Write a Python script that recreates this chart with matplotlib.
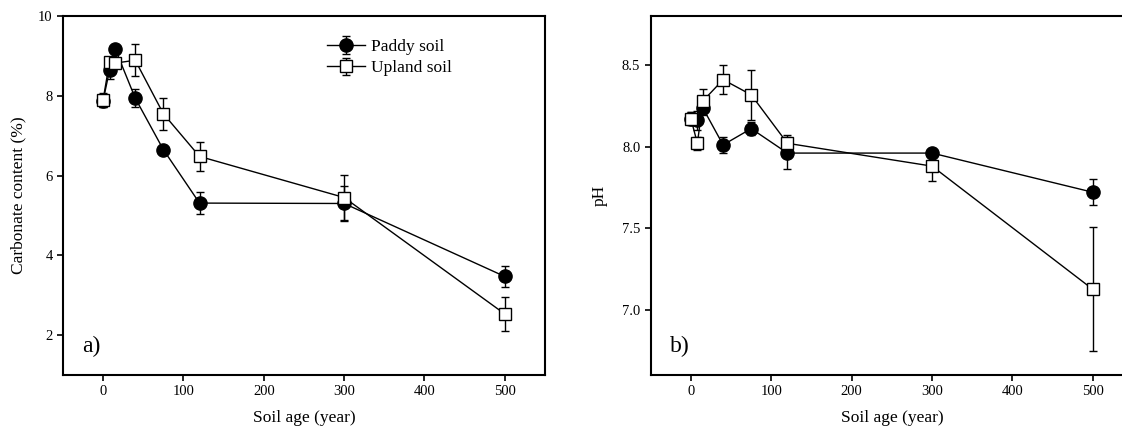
import matplotlib
matplotlib.use("Agg")
import matplotlib.pyplot as plt

plt.rcParams["font.family"] = ["Liberation Serif", "DejaVu Serif"]

# Soil age (years) of the chronosequence sites
age = [0, 8, 15, 40, 75, 120, 300, 500]

# Carbonate content (%)
carb_paddy = [7.88, 8.64, 9.18, 7.94, 6.65, 5.31, 5.30, 3.47]
carb_paddy_err = [0.15, 0.23, 0.08, 0.23, 0.05, 0.27, 0.43, 0.26]
carb_upland = [7.90, 8.85, 8.82, 8.89, 7.55, 6.48, 5.45, 2.53]
carb_upland_err = [0.17, 0.10, 0.10, 0.40, 0.40, 0.37, 0.57, 0.42]

# Soil pH
ph_paddy = [8.17, 8.16, 8.235, 8.01, 8.11, 7.96, 7.96, 7.72]
ph_paddy_err = [0.04, 0.06, 0.04, 0.05, 0.04, 0.10, 0.02, 0.08]
ph_upland = [8.17, 8.02, 8.28, 8.41, 8.317, 8.02, 7.88, 7.125]
ph_upland_err = [0.04, 0.04, 0.07, 0.09, 0.155, 0.05, 0.09, 0.38]

x_ticks = [0, 100, 200, 300, 400, 500]
carb_ticks = [2, 4, 6, 8, 10]
ph_ticks = [7.0, 7.5, 8.0, 8.5]

fig = plt.figure(figsize=(11.22, 4.28), dpi=100)
ax1 = fig.add_axes([0.0561, 0.1238, 0.4296, 0.8388])
ax2 = fig.add_axes([0.5800, 0.1238, 0.4298, 0.8388])

def draw_series(ax, y_p, e_p, y_u, e_u):
    ax.errorbar(age, y_p, yerr=e_p, color="black", lw=1.0, marker="o",
                ms=9.5, mfc="black", mec="black", capsize=3, capthick=1.0,
                elinewidth=1.0, label="Paddy soil", zorder=3)
    ax.errorbar(age, y_u, yerr=e_u, color="black", lw=1.0, marker="s",
                ms=8, mfc="white", mec="black", mew=1.0, capsize=3,
                capthick=1.0, elinewidth=1.0, label="Upland soil", zorder=4)

def style_axes(ax):
    for s in ax.spines.values():
        s.set_linewidth(1.5)
    ax.tick_params(axis="both", direction="out", length=4, width=1.2,
                   top=False, right=False, labelsize=10.5)
    ax.set_xlim(-50, 550)
    ax.set_xticks(x_ticks)
    ax.set_xlabel("Soil age (year)", fontsize=12.5, labelpad=8)

# a) carbonate content
draw_series(ax1, carb_paddy, carb_paddy_err, carb_upland, carb_upland_err)
style_axes(ax1)
ax1.set_ylim(1, 10)
ax1.set_yticks(carb_ticks)
ax1.set_yticklabels([str(t) for t in carb_ticks])
ax1.set_ylabel("Carbonate content (%)", fontsize=12.5, labelpad=8)
ax1.text(0.04, 0.065, "a)", transform=ax1.transAxes, fontsize=17)
leg = ax1.legend(loc="upper left", bbox_to_anchor=(0.515, 0.98), frameon=False,
                 fontsize=12.5, handlelength=2.2, handletextpad=0.35,
                 labelspacing=0.3, numpoints=1)

# b) pH
draw_series(ax2, ph_paddy, ph_paddy_err, ph_upland, ph_upland_err)
style_axes(ax2)
ax2.set_ylim(6.6, 8.8)
ax2.set_yticks(ph_ticks)
ax2.set_yticklabels([f"{t:.1f}" for t in ph_ticks])
ax2.set_ylabel("pH", fontsize=12.5, labelpad=10)
ax2.text(0.04, 0.065, "b)", transform=ax2.transAxes, fontsize=17)

fig.savefig("out.png", dpi=100)
